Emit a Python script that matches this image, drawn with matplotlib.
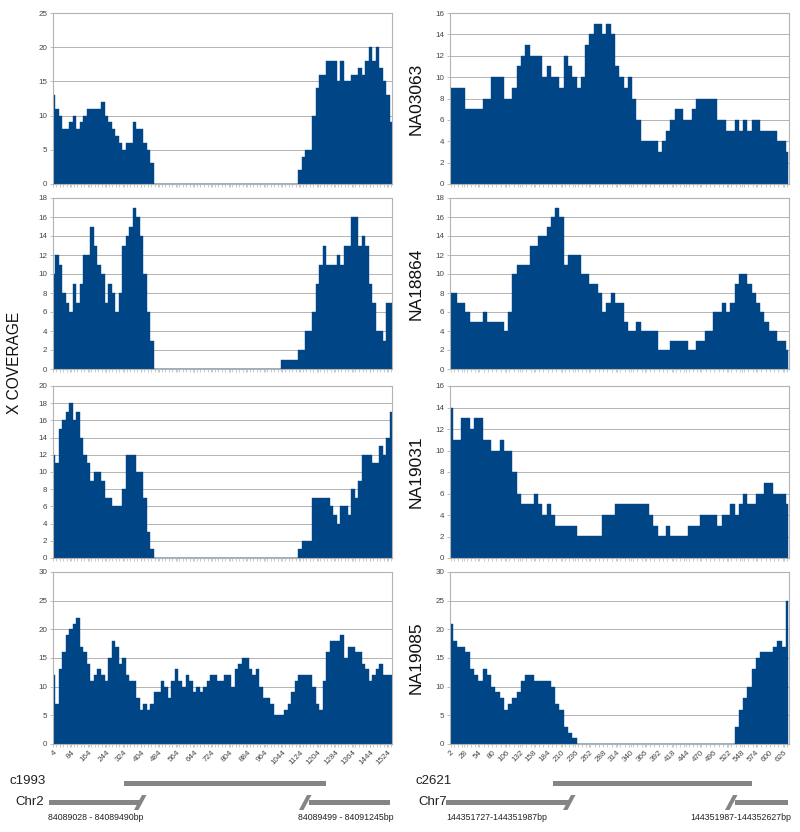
import numpy as np
import matplotlib.pyplot as plt
from matplotlib.patches import Polygon, Rectangle
from matplotlib.ticker import MultipleLocator

plt.rcParams['font.family'] = ['Liberation Sans', 'DejaVu Sans']

# -----------------------
# DATA
# -----------------------
# left contig c1993: positions every 16 bp from 4 to 1540
left_pos = np.arange(4, 1541, 16)
left_ticks = list(range(4, 1525, 80))

c1993_a = ([13, 11, 10, 8, 8, 9, 10, 8, 9, 10, 11, 11, 11, 11, 12, 10, 9, 8, 7, 6,
            5, 6, 6, 9, 8, 8, 6, 5, 3, 0] + [0] * 40 +
           [2, 4, 5, 5, 10, 14, 16, 16, 18, 18, 18, 15, 18, 15, 15, 16, 16, 17, 16, 18,
            20, 18, 20, 17, 15, 13, 9])
c1993_b = ([10, 12, 11, 8, 7, 6, 9, 7, 9, 12, 12, 15, 13, 11, 10, 7, 9, 8, 6, 8,
            13, 14, 15, 17, 16, 14, 10, 6, 3, 0] + [0] * 35 +
           [1, 1, 1, 1, 1, 2, 2, 4, 4, 6, 9, 11, 13, 11, 11, 11, 12, 11, 13, 13,
            16, 16, 13, 14, 13, 9, 7, 4, 4, 3, 7, 7])
c1993_c = ([12, 11, 15, 16, 17, 18, 16, 17, 14, 12, 11, 9, 10, 10, 9, 7, 7, 6, 6, 6,
            8, 12, 12, 12, 10, 10, 7, 3, 1, 0] + [0] * 40 +
           [1, 2, 2, 2, 7, 7, 7, 7, 7, 6, 5, 4, 6, 6, 5, 8, 7, 9, 12, 12,
            12, 11, 11, 13, 12, 14, 17])
c1993_d = [12, 7, 13, 16, 19, 20, 21, 22, 17, 16,
           14, 11, 12, 13, 12, 11, 15, 18, 17, 14,
           15, 12, 11, 11, 8, 6, 7, 6, 7, 9,
           9, 11, 10, 8, 11, 13, 11, 10, 12, 11,
           9, 10, 9, 10, 11, 12, 12, 11, 11, 12,
           12, 10, 13, 14, 15, 15, 13, 12, 13, 10,
           8, 8, 7, 5, 5, 5, 6, 7, 9, 11,
           12, 12, 12, 12, 10, 7, 6, 11, 16, 18,
           18, 18, 19, 15, 17, 17, 16, 16, 14, 13,
           11, 12, 13, 14, 12, 12, 12]

# right contig c2621: positions every 8 bp from 2 to 634
right_pos = np.arange(2, 635, 8)
right_ticks = list(range(2, 627, 26))

na03063 = [9, 9, 9, 9, 7, 7, 7, 7, 8, 8, 10, 10, 10, 8, 8, 9, 11, 12, 13, 12,
           12, 12, 10, 11, 10, 10, 9, 12, 11, 10, 9, 10, 13, 14, 15, 15, 14, 15, 14, 11,
           10, 9, 10, 8, 6, 4, 4, 4, 4, 3, 4, 5, 6, 7, 7, 6, 6, 7, 8, 8,
           8, 8, 8, 6, 6, 5, 5, 6, 5, 6, 5, 6, 6, 5, 5, 5, 5, 4, 4, 3]
na18864 = [8, 8, 7, 7, 6, 5, 5, 5, 6, 5, 5, 5, 5, 4, 6, 10, 11, 11, 11, 13,
           13, 14, 14, 15, 16, 17, 16, 11, 12, 12, 12, 10, 10, 9, 9, 8, 6, 7, 8, 7,
           7, 5, 4, 4, 5, 4, 4, 4, 4, 2, 2, 2, 3, 3, 3, 3, 2, 2, 3, 3,
           4, 4, 6, 6, 7, 6, 7, 9, 10, 10, 9, 8, 7, 6, 5, 4, 4, 3, 3, 2]
na19031 = [14, 11, 11, 13, 13, 12, 13, 13, 11, 11, 10, 10, 11, 10, 10, 8, 6, 5, 5, 5,
           6, 5, 4, 5, 4, 3, 3, 3, 3, 3, 2, 2, 2, 2, 2, 2, 4, 4, 4, 5,
           5, 5, 5, 5, 5, 5, 5, 4, 3, 2, 2, 3, 2, 2, 2, 2, 3, 3, 3, 4,
           4, 4, 4, 3, 4, 4, 5, 4, 5, 6, 5, 5, 6, 6, 7, 7, 6, 6, 6, 5]
na19085 = ([21, 18, 17, 17, 16, 13, 12, 11, 13, 12, 10, 9, 8, 6, 7, 8, 9, 11, 12, 12,
            11, 11, 11, 11, 10, 7, 6, 3, 2, 1] + [0] * 37 +
           [3, 6, 8, 10, 13, 15, 16, 16, 16, 17, 18, 17, 25])

left_series = [c1993_a, c1993_b, c1993_c, c1993_d]
left_ymax = [25, 18, 20, 30]
left_ystep = [5, 2, 2, 5]

right_series = [na03063, na18864, na19031, na19085]
right_names = ['NA03063', 'NA18864', 'NA19031', 'NA19085']
right_ymax = [16, 18, 16, 30]
right_ystep = [2, 2, 2, 5]

# -----------------------
# FIGURE
# -----------------------
W, H = 800, 832
fig = plt.figure(figsize=(8, 8.32), dpi=100)

blue = '#004586'
grey = '#b3b3b3'

# panel rows in pixels (top, bottom)
rows = [(13, 184), (198, 369), (386, 558), (572, 744)]


def px_axes(x0, x1, y0, y1):
    return fig.add_axes([x0 / W, 1 - y1 / H, (x1 - x0) / W, (y1 - y0) / H])


def style(ax, ymax, ystep, xlim, ticks, minor, show_labels):
    ax.set_xlim(*xlim)
    ax.set_ylim(0, ymax)
    ax.set_yticks(np.arange(0, ymax + 1, ystep))
    ax.set_xticks(ticks)
    ax.xaxis.set_minor_locator(MultipleLocator(minor))
    ax.grid(axis='y', color=grey, lw=0.7, zorder=0)
    ax.set_axisbelow(True)
    for s in ax.spines.values():
        s.set_color(grey)
        s.set_linewidth(0.8)
    ax.tick_params(axis='y', length=2, width=0.6, color=grey,
                   labelsize=5.8, labelcolor='#444444', pad=2)
    ax.tick_params(axis='x', which='both', length=2.5, width=0.5, color=grey,
                   labelsize=5.8, labelcolor='#444444', pad=1)
    if show_labels:
        ax.set_xticklabels([str(t) for t in ticks], rotation=45,
                           ha='right', va='top', rotation_mode='anchor')
    else:
        ax.set_xticklabels([])


for i, (top, bot) in enumerate(rows):
    ax = px_axes(53, 392, top, bot)
    ax.fill_between(left_pos, left_series[i], step='mid', color=blue, lw=0.3, zorder=2)
    style(ax, left_ymax[i], left_ystep[i], (2, 1542), left_ticks, 16, i == 3)

    ax = px_axes(450, 789, top, bot)
    ax.fill_between(right_pos, right_series[i], step='mid', color=blue, lw=0.3, zorder=2)
    style(ax, right_ymax[i], right_ystep[i], (1, 636), right_ticks, 8, i == 3)
    fig.text(416 / W, 1 - (top + bot) / 2 / H, right_names[i],
             rotation=90, ha='center', va='center', fontsize=12.5, color='#111111')

fig.text(15 / W, 1 - 363 / H, 'X COVERAGE', rotation=90, ha='center',
         va='center', fontsize=11.2, color='#111111')

# -----------------------
# CONTIG / CHROMOSOME SKETCH
# -----------------------
bar_grey = '#858585'


def bar(x0, x1, yc, h=5):
    fig.add_artist(Rectangle((x0 / W, 1 - (yc + h / 2) / H), (x1 - x0) / W, h / H,
                             transform=fig.transFigure, color=bar_grey, lw=0))


def slash(xb, yc):
    # thick "/" break mark, bottom-left corner at xb
    pts = [(xb, yc + 7.5), (xb + 4.5, yc + 7.5), (xb + 12.5, yc - 7.5), (xb + 8, yc - 7.5)]
    fig.add_artist(Polygon([(x / W, 1 - y / H) for x, y in pts], closed=True,
                           transform=fig.transFigure, color=bar_grey, lw=0))


def label(x, y, s, size, ha='left'):
    fig.text(x / W, 1 - y / H, s, ha=ha, va='center', fontsize=size, color='#222222')


# left block
label(10, 781, 'c1993', 9.5)
bar(124, 326, 783)
label(15, 802, 'Chr2', 9.5)
bar(49, 141, 802.5)
slash(134, 802.5)
bar(309, 390, 802.5)
slash(299, 802.5)
label(48, 818, '84089028 - 84089490bp', 6.3)
label(298, 818, '84089499 - 84091245bp', 6.3)

# right block
label(415, 781, 'c2621', 9.5)
bar(553, 752, 783)
label(418, 802, 'Chr7', 9.5)
bar(446, 570, 802.5)
slash(563, 802.5)
bar(735, 788, 802.5)
slash(725, 802.5)
label(446, 818, '144351727-144351987bp', 6.3)
label(690, 818, '144351987-144352627bp', 6.3)

fig.savefig('out.png', dpi=100)
